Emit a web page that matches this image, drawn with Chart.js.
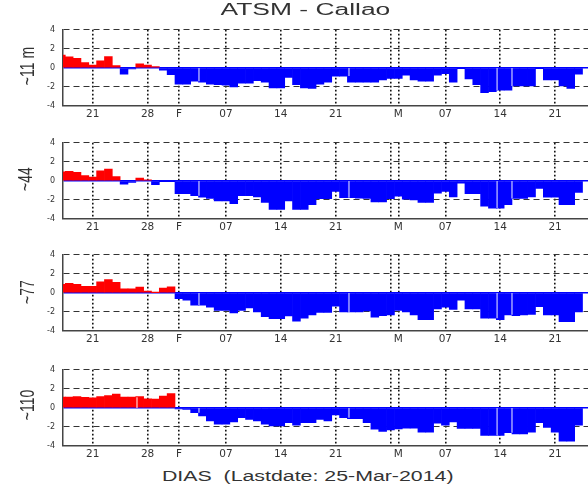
<!DOCTYPE html>
<html>
<head>
<meta charset="utf-8">
<script src="https://cdn.jsdelivr.net/npm/chart.js@4.4.1/dist/chart.umd.min.js"></script>
<style>
  html, body { margin:0; padding:0; background:#fff; }
  body { width:588px; height:484px; position:relative; overflow:hidden; font-family:"Liberation Sans", Arial, sans-serif; }
  canvas.panel { position:absolute; left:0; }
  .lbl { position:absolute; white-space:pre; color:#333; transform-origin:50% 50%; line-height:1; }
</style>
</head>
<body>
<canvas id="p0" class="panel"></canvas>
<canvas id="p1" class="panel"></canvas>
<canvas id="p2" class="panel"></canvas>
<canvas id="p3" class="panel"></canvas>
<div id="title" class="lbl" style="font-size:16px">ATSM - Callao</div>
<div id="xtitle" class="lbl" style="font-size:14px">DIAS  (Lastdate: 25-Mar-2014)</div>
<div id="y0" class="lbl" style="font-size:14px"></div>
<div id="y1" class="lbl" style="font-size:14px"></div>
<div id="y2" class="lbl" style="font-size:14px"></div>
<div id="y3" class="lbl" style="font-size:14px"></div>
<script>
// ---- data (day of year 2014: 17 = 17-Jan ... 83 = 24-Mar) ----
const days = [17,18,19,20,21,22,23,24,25,26,27,28,29,30,31,32,33,34,35,36,37,38,39,40,41,42,43,44,45,46,47,48,49,50,
              51,52,53,54,55,56,57,58,59,60,61,62,63,64,65,66,67,68,69,70,71,72,73,74,75,76,77,78,79,80,81,82,83];
const tickDays   = [21, 28, 32, 38, 45, 52, 59, 60, 66, 73, 80];
const tickLabels = ['21','28','F','07','14','21','','M','07','14','21'];
const yTicks = [-4, -2, 0, 2, 4];
const depthLabels = ['~11 m', '~44', '~77', '~110'];

const atsm11 = [ 1.35, 1.15, 1.0, 0.55, 0.3, 0.75, 1.2,
                 0.25, -0.65, -0.1, 0.43, 0.3, 0.13, -0.25,
                -0.7, -1.7, -1.7, -1.4, -1.5, -1.7, -1.75,
                -1.8, -2.0, -1.6, -1.6, -1.35, -1.5, -2.1,
                -2.1, -1.0, -1.75, -2.1, -2.15, -1.7, -1.5,
                -0.86, -0.86, -1.5, -1.5, -1.5, -1.5, -1.25,
                -1.1, -1.1, -0.76, -1.25, -1.4, -1.4, -0.76,
                -0.6, -1.5, -0.05, -1.15, -1.75, -2.6, -2.5,
                -2.35, -2.35, -1.9, -1.9, -1.9, -0.05, -1.25,
                -1.25, -1.9, -2.15, -0.66 ];
const atsm44 = [ 0.95, 1.0, 0.9, 0.55, 0.4, 1.05, 1.25,
                 0.45, -0.35, -0.15, 0.3, 0.1, -0.4, -0.05,
                -0.05, -1.35, -1.35, -1.55, -1.7, -1.85, -2.1,
                -2.1, -2.4, -1.55, -1.55, -1.67, -2.26, -3.0,
                -3.0, -2.1, -3.0, -3.0, -2.5, -1.87, -1.87,
                -1.1, -1.77, -1.77, -1.8, -1.84, -2.2, -2.2,
                -1.87, -1.6, -1.93, -2.0, -2.26, -2.26, -1.28,
                -1.1, -1.67, -0.23, -1.35, -1.35, -2.66, -2.85,
                -2.85, -2.5, -1.84, -1.84, -1.67, -0.8, -1.7,
                -1.7, -2.5, -2.5, -1.2 ];
const atsm77 = [ 0.9, 1.0, 0.9, 0.7, 0.68, 1.16, 1.39,
                 1.1, 0.42, 0.42, 0.6, 0.2, 0.02, 0.5,
                 0.65, -0.6, -0.77, -1.3, -1.3, -1.5, -1.84,
                -1.84, -2.1, -1.84, -1.58, -2.0, -2.5, -2.7,
                -2.7, -2.42, -2.97, -2.65, -2.3, -2.06, -2.06,
                -1.4, -2.0, -2.0, -2.0, -1.9, -2.55, -2.4,
                -2.3, -1.84, -2.0, -2.3, -2.8, -2.8, -1.68,
                -1.5, -1.74, -0.77, -1.68, -1.68, -2.65, -2.65,
                -2.8, -2.3, -2.4, -2.3, -2.26, -1.45, -2.3,
                -2.3, -3.03, -3.03, -2.0 ];
const atsm110 = [ 1.13, 1.13, 1.18, 1.1, 1.06, 1.2, 1.3,
                  1.45, 1.13, 1.13, 1.2, 0.95, 0.92, 1.25,
                  1.5, -0.1, -0.17, -0.5, -0.85, -1.37, -1.7,
                 -1.7, -1.47, -1.03, -1.2, -1.37, -1.7, -1.88,
                 -1.88, -1.54, -1.8, -1.54, -1.54, -1.2, -1.37,
                 -0.75, -1.03, -1.13, -1.13, -1.54, -2.22, -2.46,
                 -2.3, -2.2, -2.12, -2.12, -2.56, -2.56, -1.6,
                 -1.8, -1.47, -2.15, -2.15, -2.15, -2.9, -2.9,
                 -2.9, -2.6, -2.73, -2.73, -2.56, -1.54, -2.05,
                 -2.56, -3.5, -3.5, -1.8 ];
// small breaks in the record (day of year)
const gapDays    = [34.56, 53.7, 72.6, 74.5];
const gapDays110 = [26.65, 34.56, 53.7, 72.6, 74.5];

const series = [atsm11, atsm44, atsm77, atsm110];
const gaps   = [gapDays, gapDays, gapDays, gapDays110];

// ---- layout ----
const panelTops = [25, 138, 250, 365];
const PAD_TOP = 8, AREA_H = 81, XAX_H = 22, Y_AX_W = 63, W = 588;
const RED = '#ff0000', BLUE = '#0000ff';

const gapPlugin = {
  id: 'gapLines',
  afterDatasetsDraw(chart, args, opts) {
    const xs = chart.scales.x, ys = chart.scales.y, ctx = chart.ctx;
    const vals = chart.data.datasets[0].data;
    const area = chart.chartArea;
    ctx.save();
    ctx.beginPath(); ctx.rect(area.left, area.top, area.width, area.height); ctx.clip();
    (opts.days || []).forEach(g => {
      const a = vals[days.indexOf(Math.floor(g))], b = vals[days.indexOf(Math.ceil(g))];
      const v = Math.abs(a.y) < Math.abs(b.y) ? a.y : b.y;
      const px = xs.getPixelForValue(g);
      ctx.strokeStyle = v >= 0 ? 'rgba(255,200,200,0.85)' : 'rgba(190,190,255,0.85)';
      ctx.lineWidth = 1.5;
      ctx.beginPath();
      ctx.moveTo(px, ys.getPixelForValue(0));
      ctx.lineTo(px, ys.getPixelForValue(v));
      ctx.stroke();
    });
    ctx.restore();
  }
};

function makePanel(k) {
  const cv = document.getElementById('p' + k);
  cv.width = W; cv.height = PAD_TOP + AREA_H + XAX_H;
  cv.style.width = W + 'px'; cv.style.height = cv.height + 'px';
  cv.style.top = (panelTops[k] - PAD_TOP) + 'px';
  const vals = series[k];
  const pts = days.map((d, i) => ({x: d, y: vals[i]}));
  new Chart(cv, {
    type: 'bar',
    data: {
      datasets: [{
        data: pts,
        backgroundColor: vals.map(v => v >= 0 ? RED : BLUE),
        borderWidth: 0,
        barPercentage: 1,
        categoryPercentage: 1
      }]
    },
    plugins: [gapPlugin],
    options: {
      responsive: false,
      animation: false,
      events: [],
      layout: { padding: { top: PAD_TOP, left: 0, right: 0, bottom: 0 } },
      plugins: { legend: { display: false }, tooltip: { enabled: false }, title: { display: false },
                 gapLines: { days: gaps[k] } },
      scales: {
        x: {
          type: 'linear',
          min: 17.21, max: 84.2,
          offset: false,
          afterBuildTicks: s => { s.ticks = tickDays.map(v => ({ value: v })); },
          afterFit: s => { s.height = XAX_H; },
          ticks: {
            autoSkip: false, maxRotation: 0, minRotation: 0, padding: 2,
            color: '#333',
            font: { family: 'DejaVu Sans', size: 10.5 },
            callback: (v) => tickLabels[tickDays.indexOf(v)]
          },
          grid: { offset: false, drawTicks: false, color: '#111', lineWidth: 1.6 },
          border: { display: true, color: '#444', width: 1.5, dash: [1.6, 2.4] }
        },
        y: {
          min: -4, max: 4,
          afterBuildTicks: s => { s.ticks = yTicks.map(v => ({ value: v })); },
          afterFit: s => { s.width = Y_AX_W; },
          ticks: {
            padding: 8, color: '#333',
            font: { family: 'DejaVu Sans', size: 8 },
            callback: v => String(v)
          },
          grid: {
            drawTicks: false,
            color: c => (c.tick && c.tick.value === 0) ? BLUE : '#333',
            lineWidth: c => (c.tick && c.tick.value === 0) ? 1.6 : 1.1
          },
          border: {
            display: true, color: '#444', width: 1.5,
            dash: c => (c.tick && c.tick.value === 0) ? [] : [6, 4]
          }
        }
      }
    }
  });
}
for (let k = 0; k < 4; k++) makePanel(k);

// ---- text labels ----
function place(id, cx, cy, transform) {
  const el = document.getElementById(id);
  const w = el.offsetWidth, h = el.offsetHeight;
  el.style.left = (cx - w / 2) + 'px';
  el.style.top = (cy - h / 2) + 'px';
  el.style.transform = transform(w, h);
}
place('title', 305, 9.5, (w) => 'scaleX(' + (170 / w) + ')');
place('xtitle', 307.5, 475.5, (w) => 'scaleX(' + (291 / w) + ')');
const yCenters = [[25.5, 66], [25, 178.5], [26.5, 291.5], [26, 405]];
depthLabels.forEach((t, k) => {
  document.getElementById('y' + k).textContent = t;
  place('y' + k, yCenters[k][0], yCenters[k][1], () => 'scaleX(1.5) rotate(-90deg)');
});
</script>
</body>
</html>
